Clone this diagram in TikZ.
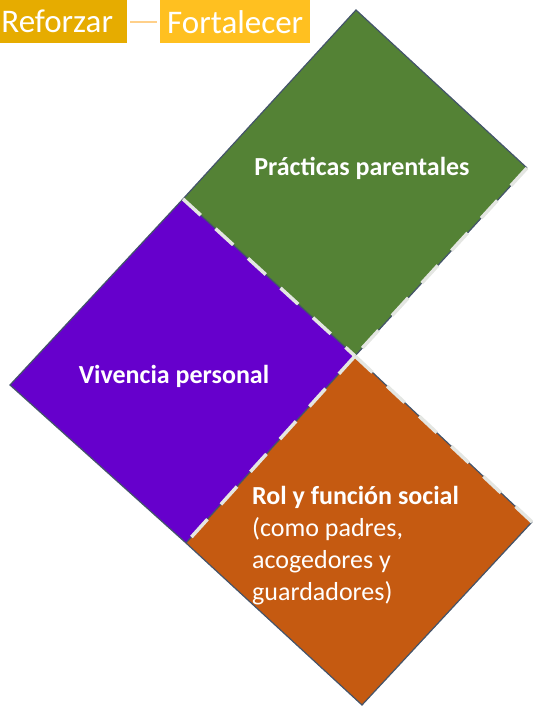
\documentclass[tikz,border=0pt]{standalone}
\usepackage{fontspec}
\setmainfont{Carlito}
\definecolor{verde}{HTML}{548235}
\definecolor{morado}{HTML}{6600CC}
\definecolor{naranja}{HTML}{C55A11}
\definecolor{oro}{HTML}{E6AC00}
\definecolor{amarillo}{HTML}{FFC020}
\definecolor{enlace}{HTML}{FFD08A}
\definecolor{bordeazul}{HTML}{44546A}
\definecolor{guion}{HTML}{E4E6E2}
\begin{document}
\begin{tikzpicture}[x=1pt,y=-1pt,
	borde/.style={draw=bordeazul,line width=1.2pt,line join=miter},
	corte/.style={draw=guion,line width=3.5pt,dash pattern=on 24pt off 20pt},
	etiqueta/.style={text=white,font=\bfseries\fontsize{26}{30}\selectfont},
	titulo/.style={text=white,font=\fontsize{33}{36}\selectfont,inner sep=0pt,minimum height=43pt,anchor=north west}]
	\useasboundingbox (0,0) rectangle (533,707);
	% esquinas
	\coordinate (centro) at (355,356);
	\coordinate (vsup) at (356,10);
	\coordinate (vder) at (527,168);
	\coordinate (vizq) at (183,199);
	\coordinate (mizq) at (10,385);
	\coordinate (minf) at (186,543);
	\coordinate (nder) at (532,522);
	\coordinate (ninf) at (362,705);
	% cuadros
	\fill[verde] (vsup) -- (vder) -- (centro) -- (vizq) -- cycle;
	\fill[morado] (vizq) -- (centro) -- (minf) -- (mizq) -- cycle;
	\fill[naranja] (centro) -- (nder) -- (ninf) -- (minf) -- cycle;
	\draw[borde] (vizq) -- (vsup) -- (vder);
	\draw[borde] (vizq) -- (mizq) -- (minf);
	\draw[borde] (nder) -- (ninf) -- (minf);
	\draw[borde] (vder) -- (centro) -- (vizq);
	\draw[borde] (centro) -- (minf);
	\draw[borde] (centro) -- (nder);
	\draw[corte] (vizq) -- (centro);
	\draw[corte] (vder) -- (centro);
	\draw[corte] (centro) -- (minf);
	\draw[corte] (centro) -- (nder);
	% textos
	\node[etiqueta] (practicas) at (362,168) {Prácticas parentales};
	\node[etiqueta] (vivencia) at (174,376) {Vivencia personal};
	\node[text=white,font=\fontsize{26}{32}\selectfont,align=left,anchor=north west,inner sep=0pt] (rol) at (252,486)
		{\textbf{Rol y función social}\\(como padres,\\acogedores y\\guardadores)};
	% encabezado
	\node[titulo,fill=oro,minimum width=140pt] (reforzar) at (-13,0) {Reforzar\hspace{12pt}};
	\node[titulo,fill=amarillo,minimum width=150pt] (fortalecer) at (160,0) {Fortalecer};
	\draw[enlace,line width=2pt] ([xshift=3pt]reforzar.east) -- ([xshift=-3pt]fortalecer.west);
\end{tikzpicture}
\end{document}
